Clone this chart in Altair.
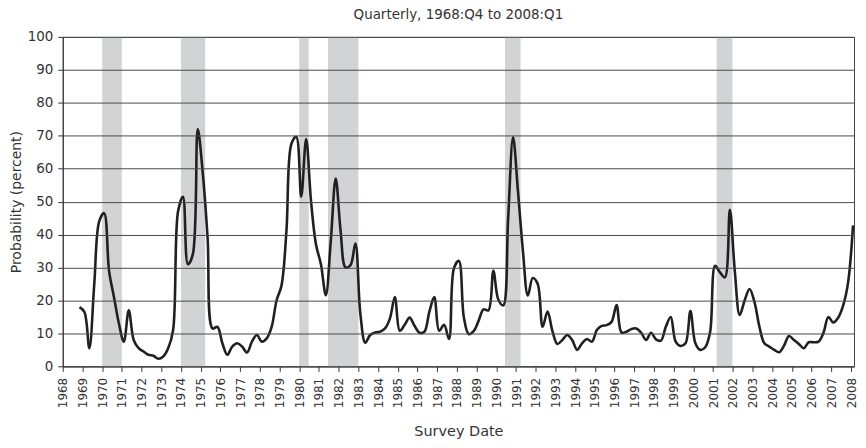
import altair as alt
import pandas as pd

# Quarterly survey dates: 1968:Q4 .. 2008:Q1
start_year = 1968
start_quarter = 4
probability = [
    18, 16.5, 5.5, 25, 44, 46.5, 29, 21, 13, 7.5,          # 68Q4-71Q1
    17, 8, 5.5, 4.5, 3.5, 3.2, 2.3, 3, 5.5, 11,            # 71Q2-73Q3
    47, 51.5, 31, 34, 72, 59, 39, 11.5, 12, 7,             # 73Q4-76Q1
    3.5, 6, 7, 6, 4.2, 7.5, 9.5, 7.5, 8.5, 12,             # 76Q2-78Q3
    20, 24.5, 41, 67.5, 69.7, 51.5, 69, 50, 37, 31,        # 78Q4-81Q1
    21.6, 38, 57, 41, 30, 30.7, 37.3, 16, 7.2, 9.5,        # 81Q2-83Q3
    10.3, 10.5, 11.5, 14.5, 21, 10.8, 12.6, 14.8, 12.3, 10.2,  # 83Q4-86Q1
    10.5, 16.5, 21, 10.8, 12.6, 8.3, 29.8, 32, 15, 9.8,    # 86Q2-88Q3
    10.7, 13.8, 17.3, 17, 29, 20.3, 18.5, 45, 69.5, 53,    # 88Q4-91Q1
    35, 21.5, 26.8, 25, 12, 16.6, 10.6, 6.8, 8, 9.5,       # 91Q2-93Q3
    8, 5, 7, 8.3, 7.5, 11, 12.3, 12.5, 13.5, 18.6,         # 93Q4-96Q1
    10.3, 10.5, 11.3, 11.5, 10.2, 8, 10.2, 8.2, 7.8, 12,   # 96Q2-98Q3
    15, 7.5, 6.2, 7, 16.8, 7, 5, 5.8, 10.5, 30.5,          # 98Q4-01Q1
    28.5, 27, 47.5, 29, 15.6, 20, 23.5, 19.5, 12, 7,       # 01Q2-03Q3
    6, 5, 4.3, 6.3, 9.2, 8, 6.8, 5.5, 7.3, 7.3,            # 03Q4-06Q1
    7.5, 10.2, 15, 13.3, 14.8, 18.5, 25.5, 42.8,           # 06Q2-08Q1
]

# Shaded recession periods (in survey-date years)
band_start = [1970.0, 1974.0, 1980.0, 1981.46, 1990.44, 2001.18]
band_end = [1971.0, 1975.23, 1980.48, 1983.0, 1991.23, 2001.98]

year_ticks = list(range(1968, 2009))
grid_values = list(range(0, 101, 10))

labels = []
times = []
for i in range(len(probability)):
    q0 = start_quarter - 1 + i
    y = start_year + q0 // 4
    q = q0 % 4 + 1
    labels.append(f"{y}:Q{q}")
    times.append(y + (q - 1) / 4 + 0.1)

df = pd.DataFrame({"date": labels, "t": times, "p": probability})
bands = pd.DataFrame({"x1": band_start, "x2": band_end,
                      "lo": [0] * len(band_start), "hi": [100] * len(band_start)})

FONT = "DejaVu Sans"
W, H = 795, 331

xscale = alt.Scale(domain=[1968, 2008.15], nice=False, zero=False)
yscale = alt.Scale(domain=[0, 100], nice=False)

xaxis = alt.Axis(
    values=year_ticks, format="d", labelAngle=270, labelAlign="right",
    labelBaseline="middle", labelFontSize=12, labelColor="#333",
    labelPadding=6, tickSize=5, tickColor="#333", domainColor="#333",
    grid=False, labelFlush=False, labelOverlap=False,
    title="Survey Date", titleFontSize=14.5, titleFontWeight="normal",
    titleColor="#333", titleY=65, titleBaseline="middle",
)
yaxis = alt.Axis(
    values=grid_values, labelFontSize=13.5, labelColor="#333", labelPadding=5,
    tickSize=5, tickColor="#333", domainColor="#333", labelOverlap=False,
    grid=True, gridColor="#4a4a4a", gridWidth=1,
    title="Probability (percent)", titleFontSize=14, titleFontWeight="normal",
    titleColor="#333", titleX=-46.5, titleY=H / 2, titleAngle=270,
    titleAlign="center", titleBaseline="middle", zindex=1,
)

band_layer = alt.Chart(bands).mark_rect(color="#d1d3d4").encode(
    x=alt.X("x1:Q", scale=xscale, axis=xaxis),
    x2="x2:Q",
    y=alt.Y("lo:Q", scale=yscale, axis=yaxis),
    y2="hi:Q",
)

line_layer = alt.Chart(df).mark_line(
    interpolate="catmull-rom", color="#231f20", strokeWidth=2.6
).encode(
    x=alt.X("t:Q", scale=xscale, axis=xaxis),
    y=alt.Y("p:Q", scale=yscale, axis=yaxis),
)

chart = alt.layer(band_layer, line_layer).properties(
    width=W, height=H,
    title=alt.TitleParams("Quarterly, 1968:Q4 to 2008:Q1", fontSize=13.5,
                          fontWeight="normal", color="#333", anchor="middle",
                          offset=8, font=FONT),
    autosize=alt.AutoSizeParams(type="none"),
    padding={"left": 55, "top": 28, "right": 4, "bottom": 78},
).configure(font=FONT).configure_view(stroke="#444", strokeWidth=1)

chart.save("out.html", embed_options={"renderer": "svg", "actions": False})
